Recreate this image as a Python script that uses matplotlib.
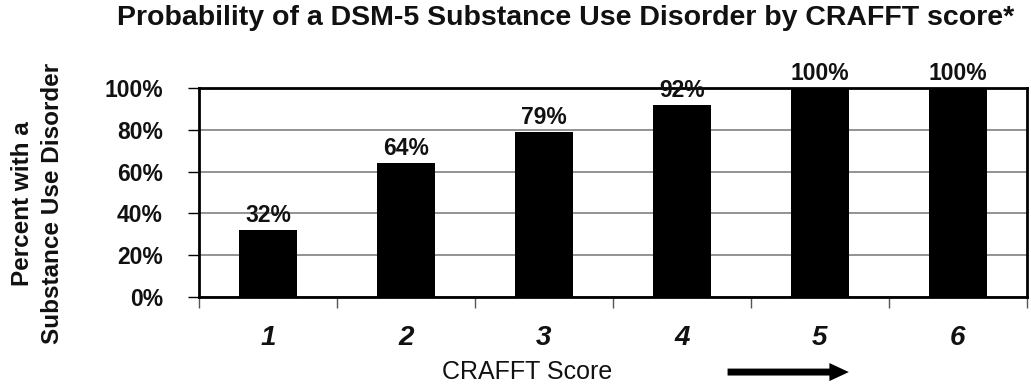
import matplotlib.pyplot as plt
import numpy as np

scores = [1, 2, 3, 4, 5, 6]
percent = [32, 64, 79, 92, 100, 100]
labels = ['32%', '64%', '79%', '92%', '100%', '100%']
yticks = [0, 20, 40, 60, 80, 100]

plt.rcParams['font.family'] = ['Liberation Sans', 'DejaVu Sans']

fig = plt.figure(figsize=(10.31, 3.9), dpi=100)
ax = fig.add_axes([0.193, 0.2385, 0.803, 0.536])

x = np.array(scores)
ax.bar(x, percent, width=0.42, color='black', zorder=3, clip_on=False)

for xi, v, lab in zip(x, percent, labels):
    ax.annotate(lab, (xi, v), xytext=(0, 2), textcoords='offset points',
                ha='center', va='bottom', fontsize=16.5, fontweight='bold',
                color='#111111', annotation_clip=False)

ax.set_xlim(0.5, 6.5)
ax.set_ylim(0, 100)
ax.set_yticks(yticks)
ax.set_yticklabels([f'{t}%' for t in yticks], fontsize=16.5, fontweight='bold', color='#111111')
ax.yaxis.grid(True, color='#808080', linewidth=1.2, zorder=0)
ax.tick_params(axis='y', length=8, width=1, pad=18)

# category boundaries as major ticks, labels on minor ticks
ax.set_xticks(np.arange(0.5, 7.0, 1.0))
ax.set_xticklabels([])
ax.set_xticks(x, minor=True)
ax.set_xticklabels([str(s) for s in scores], minor=True, fontsize=20,
                   fontweight='bold', fontstyle='italic', color='#111111')
ax.tick_params(axis='x', which='major', length=8, width=1, color='#555555')
ax.tick_params(axis='x', which='minor', length=0, pad=20)

for side in ['left', 'right', 'top', 'bottom']:
    ax.spines[side].set_linewidth(2)
    ax.spines[side].set_color('black')
ax.spines['bottom'].set_zorder(4)

fig.text(0.549, 0.954, 'Probability of a DSM-5 Substance Use Disorder by CRAFFT score*',
         ha='center', va='center', fontsize=20.5, fontweight='bold', color='#111111')
fig.text(0.022, 0.478, 'Percent with a', rotation=90, ha='center', va='center',
         fontsize=17.5, fontweight='bold', color='#111111')
fig.text(0.051, 0.478, 'Substance Use Disorder', rotation=90, ha='center', va='center',
         fontsize=17.5, fontweight='bold', color='#111111')
fig.text(0.511, 0.046, 'CRAFFT Score', ha='center', va='center', fontsize=18,
         color='#111111')

ax.annotate('', xy=(0.826, 0.046), xytext=(0.703, 0.046),
            xycoords='figure fraction', textcoords='figure fraction',
            arrowprops=dict(arrowstyle='simple,head_length=1.4,head_width=1.3,tail_width=0.5',
                            color='black', lw=0))

fig.savefig('out.png', dpi=100)
